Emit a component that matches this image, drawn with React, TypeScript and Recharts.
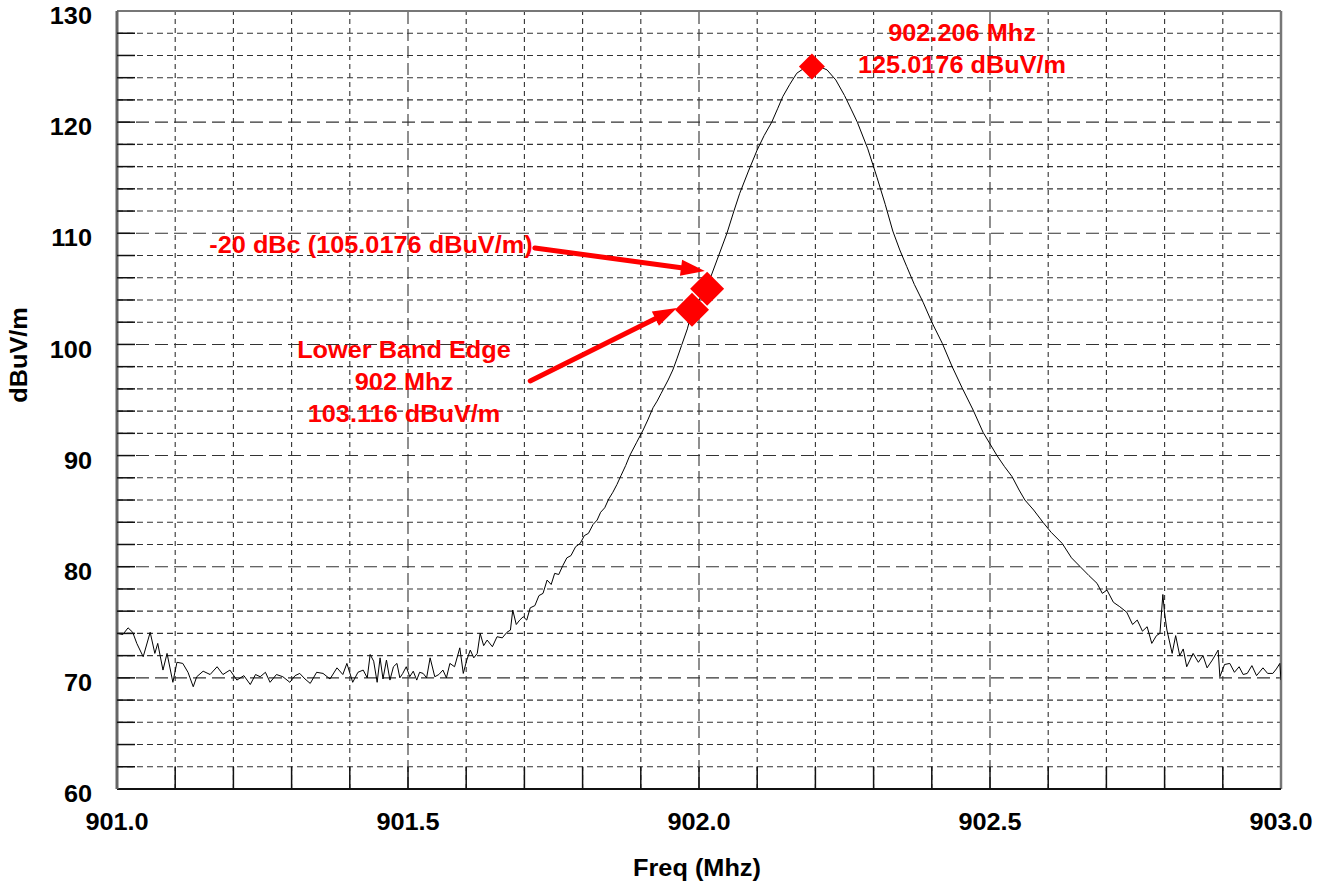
import React from 'react';
import { ComposedChart, Line, Scatter, XAxis, YAxis, ReferenceLine } from 'recharts';

// spectrum trace (MHz, dBuV/m)
const FREQ_MHZ = [
  901.000, 901.010, 901.019, 901.027, 901.034, 901.045, 901.057, 901.065, 901.070, 901.079,
  901.086, 901.096, 901.103, 901.113, 901.122, 901.131, 901.137, 901.148, 901.160, 901.172,
  901.182, 901.194, 901.206, 901.218, 901.229, 901.238, 901.246, 901.255, 901.263, 901.274,
  901.285, 901.297, 901.306, 901.314, 901.323, 901.332, 901.343, 901.354, 901.366, 901.378,
  901.388, 901.395, 901.405, 901.414, 901.423, 901.430, 901.435, 901.441, 901.447, 901.452,
  901.457, 901.463, 901.469, 901.475, 901.481, 901.486, 901.491, 901.497, 901.503, 901.509,
  901.515, 901.520, 901.526, 901.532, 901.538, 901.546, 901.553, 901.560, 901.566, 901.572,
  901.580, 901.589, 901.595, 901.601, 901.607, 901.613, 901.619, 901.624, 901.630, 901.636,
  901.645, 901.653, 901.662, 901.670, 901.676, 901.680, 901.686, 901.692, 901.698, 901.704,
  901.710, 901.718, 901.725, 901.732, 901.739, 901.746, 901.752, 901.759, 901.766, 901.773,
  901.780, 901.788, 901.796, 901.803, 901.810, 901.818, 901.825, 901.831, 901.838, 901.845,
  901.852, 901.859, 901.866, 901.874, 901.881, 901.893, 901.904, 901.912, 901.921, 901.928,
  901.935, 901.947, 901.955, 901.962, 901.970, 901.980, 901.988, 902.000, 902.014, 902.031,
  902.048, 902.060, 902.070, 902.085, 902.100, 902.112, 902.125, 902.135, 902.144, 902.156,
  902.168, 902.182, 902.194, 902.207, 902.220, 902.235, 902.250, 902.262, 902.272, 902.290,
  902.306, 902.320, 902.333, 902.345, 902.357, 902.370, 902.385, 902.400, 902.418, 902.435,
  902.452, 902.471, 902.488, 902.512, 902.525, 902.538, 902.550, 902.560, 902.575, 902.591,
  902.605, 902.624, 902.640, 902.655, 902.670, 902.684, 902.693, 902.701, 902.712, 902.723,
  902.735, 902.745, 902.753, 902.762, 902.770, 902.778, 902.786, 902.792, 902.797, 902.800,
  902.804, 902.813, 902.819, 902.826, 902.832, 902.838, 902.849, 902.858, 902.866, 902.873,
  902.882, 902.892, 902.895, 902.903, 902.912, 902.920, 902.928, 902.935, 902.942, 902.950,
  902.958, 902.969, 902.977, 902.986, 902.992, 902.998, 903.000,
];

const LEVEL_DBUV = [
  74.0, 73.9, 74.5, 74.1, 73.1, 71.9, 74.1, 72.2, 73.1, 70.7,
  72.2, 69.6, 71.4, 71.3, 70.5, 69.2, 70.1, 70.6, 70.3, 71.0,
  70.3, 70.7, 69.8, 70.2, 69.4, 70.3, 70.1, 70.5, 69.6, 70.3,
  70.1, 69.6, 70.2, 70.4, 69.9, 69.5, 70.5, 70.4, 69.9, 70.9,
  70.3, 71.3, 69.6, 70.5, 70.7, 70.0, 72.1, 71.5, 69.6, 71.8,
  69.9, 71.6, 69.8, 71.0, 71.3, 70.0, 70.4, 71.0, 70.1, 70.6,
  69.8, 70.5, 70.4, 70.0, 71.8, 70.1, 70.3, 70.7, 70.0, 71.3,
  71.0, 72.7, 70.4, 71.6, 72.5, 71.8, 72.2, 74.0, 72.9, 73.4,
  72.8, 73.7, 73.6, 74.1, 74.3, 76.1, 74.8, 75.2, 75.5, 75.2,
  76.3, 76.5, 77.4, 77.6, 78.8, 78.4, 79.4, 79.3, 80.1, 80.8,
  81.0, 81.8, 82.1, 82.8, 83.0, 83.8, 84.2, 84.9, 85.3, 86.1,
  86.7, 87.4, 88.2, 89.1, 90.0, 91.2, 92.3, 93.2, 94.3, 94.9,
  95.6, 96.8, 97.7, 98.7, 99.9, 101.4, 103.0, 104.0, 105.2, 107.6,
  110.0, 112.0, 113.6, 115.6, 117.5, 118.8, 120.0, 121.2, 122.3, 123.4,
  124.4, 124.9, 125.1, 125.0, 124.7, 123.8, 122.4, 121.1, 120.0, 117.6,
  115.0, 112.6, 110.2, 108.5, 107.0, 105.4, 103.8, 102.0, 100.1, 98.0,
  96.1, 94.1, 92.1, 90.0, 89.0, 88.1, 86.9, 86.0, 85.1, 84.0,
  83.1, 82.1, 80.8, 80.0, 79.2, 78.5, 77.6, 77.9, 76.8, 76.4,
  75.9, 74.8, 75.2, 74.2, 74.6, 73.1, 73.8, 74.0, 77.5, 75.8,
  74.3, 72.2, 73.8, 72.0, 72.6, 71.0, 72.2, 71.4, 72.0, 70.9,
  71.6, 72.5, 70.1, 71.2, 71.3, 70.5, 71.0, 70.3, 70.4, 71.1,
  70.2, 70.9, 70.4, 70.4, 70.8, 71.3, 69.8,
];

// markers: lower band edge, -20 dBc point, peak
const MARKER_NAMES = ['edge', 'dbc', 'peak'];
const MARKER_FREQ = [901.988, 902.014, 902.194];
const MARKER_LEVEL = [103.116, 105.0176, 125.0176];

// arrows: [startFreq, startLevel, tipFreq, tipLevel]
const ARROWS = [
  [901.718, 108.68, 902.010, 106.61],
  [901.710, 96.71, 901.962, 103.28],
];

const Y_TICKS = Array.from({ length: 36 }, (_, i) => 60 + i * 2);
const X_TICKS = Array.from({ length: 21 }, (_, i) => Math.round((901 + i * 0.1) * 10) / 10);

const data = FREQ_MHZ.map((f, i) => ({ f, v: LEVEL_DBUV[i] }));
const markers = MARKER_NAMES.map((name, i) => ({ name, f: MARKER_FREQ[i], v: MARKER_LEVEL[i] }));

const FONT = '"Liberation Sans", Arial, Helvetica, sans-serif';
const RED = '#ff0000';
const markerHalf: Record<string, number> = { edge: 17, dbc: 17, peak: 13 };

const YTick = (props: any) => {
  const { x, y, payload } = props;
  const v = payload.value;
  return (
    <g>
      {v > 60 && v < 130 && <line x1={x} x2={x + 18} y1={y} y2={y} stroke="#111" strokeWidth={1.5} />}
      {v % 10 === 0 && (
        <text transform={`translate(${x - 25},${y + 5}) scale(1.1,1)`} textAnchor="end" dominantBaseline="central"
              fontFamily={FONT} fontWeight="bold" fontSize={23} fill="#000">{v}</text>
      )}
    </g>
  );
};

const XTick = (props: any) => {
  const { x, y, payload } = props;
  const v = payload.value;
  const isLabel = Math.abs(v * 2 - Math.round(v * 2)) < 1e-6;
  return (
    <g>
      {v > 901.01 && v < 902.99 && <line x1={x} x2={x} y1={y} y2={y - 22} stroke="#111" strokeWidth={1.5} />}
      {isLabel && (
        <text transform={`translate(${x},${y + 33}) scale(1.1,1)`} textAnchor="middle" dominantBaseline="central"
              fontFamily={FONT} fontWeight="bold" fontSize={23} fill="#000">{v.toFixed(1)}</text>
      )}
    </g>
  );
};

const Diamond = (props: any) => {
  const { cx, cy, payload } = props;
  const s = markerHalf[payload.name] || 13;
  return <polygon points={`${cx},${cy - s} ${cx + s},${cy} ${cx},${cy + s} ${cx - s},${cy}`} fill={RED} />;
};

const Arrow = (props: any) => {
  const { x1, y1, x2, y2 } = props;
  const dx = x2 - x1, dy = y2 - y1;
  const len = Math.sqrt(dx * dx + dy * dy);
  const ux = dx / len, uy = dy / len;
  const head = 24, w = 8;
  const bx = x2 - ux * head, by = y2 - uy * head;
  return (
    <g>
      <line x1={x1} y1={y1} x2={bx + ux * 2} y2={by + uy * 2} stroke={RED} strokeWidth={5} strokeLinecap="round" />
      <polygon points={`${x2},${y2} ${bx - uy * w},${by + ux * w} ${bx + uy * w},${by - ux * w}`} fill={RED} />
    </g>
  );
};

const textStyle: React.CSSProperties = {
  position: 'absolute', width: 400, textAlign: 'center', color: RED, fontFamily: FONT,
  fontWeight: 'bold', fontSize: 23, lineHeight: '32px', transform: 'scaleX(1.1)', whiteSpace: 'nowrap',
};

export default function App() {
  return (
    <div style={{ position: 'absolute', left: 0, top: 0, width: 1320, height: 888, background: '#fff' }}>
      <ComposedChart width={1320} height={888} data={data} margin={{ top: 11, right: 39, bottom: 0, left: 0 }}>
        {Y_TICKS.filter(v => v > 60 && v < 130).map(v => (
          <ReferenceLine key={'h' + v} y={v} stroke="#333" strokeWidth={1.1}
                         strokeDasharray={v % 10 === 0 ? '13 6' : '6 4'} />
        ))}
        {X_TICKS.filter(v => v > 901.01 && v < 902.99).map(v => (
          <ReferenceLine key={'v' + v} x={v} stroke="#333" strokeWidth={1.1}
                         strokeDasharray={Math.abs(v * 2 - Math.round(v * 2)) < 1e-6 ? '12 5' : '5 4'} />
        ))}
        <ReferenceLine y={130} stroke="#777" strokeWidth={2} />
        <ReferenceLine x={903} stroke="#777" strokeWidth={2.5} />
        <XAxis dataKey="f" type="number" domain={[901, 903]} ticks={X_TICKS} interval={0} height={99}
               tickSize={0} tickMargin={0} tickLine={false} tick={<XTick />}
               axisLine={{ stroke: '#111', strokeWidth: 2 }} allowDataOverflow />
        <YAxis dataKey="v" type="number" domain={[60, 130]} ticks={Y_TICKS} interval={0} width={117}
               tickSize={0} tickMargin={0} tickLine={false} tick={<YTick />}
               axisLine={{ stroke: '#666', strokeWidth: 3 }} allowDataOverflow />
        <Line dataKey="v" type="linear" stroke="#000" strokeWidth={1} dot={false} isAnimationActive={false} />
        {ARROWS.map((a, i) => (
          <ReferenceLine key={'a' + i} segment={[{ x: a[0], y: a[1] }, { x: a[2], y: a[3] }]} shape={<Arrow />} ifOverflow="visible" />
        ))}
        <Scatter data={markers} dataKey="v" shape={<Diamond />} isAnimationActive={false} />
      </ComposedChart>

      <div style={{ ...textStyle, left: 762, top: 17 }}>902.206 Mhz<br />125.0176 dBuV/m</div>
      <div style={{ ...textStyle, left: 171, top: 229 }}>-20 dBc (105.0176 dBuV/m)</div>
      <div style={{ ...textStyle, left: 204, top: 334 }}>Lower Band Edge<br />902 Mhz<br />103.116 dBuV/m</div>

      <div style={{ position: 'absolute', left: 497, top: 852, width: 400, textAlign: 'center', fontFamily: FONT,
                    fontWeight: 'bold', fontSize: 23, lineHeight: '32px', transform: 'scaleX(1.1)' }}>Freq (Mhz)</div>
      <div style={{ position: 'absolute', left: 19 - 100, top: 355 - 16, width: 200, textAlign: 'center', fontFamily: FONT,
                    fontWeight: 'bold', fontSize: 23, lineHeight: '32px', transform: 'rotate(-90deg) scaleX(1.1)' }}>dBuV/m</div>
    </div>
  );
}
